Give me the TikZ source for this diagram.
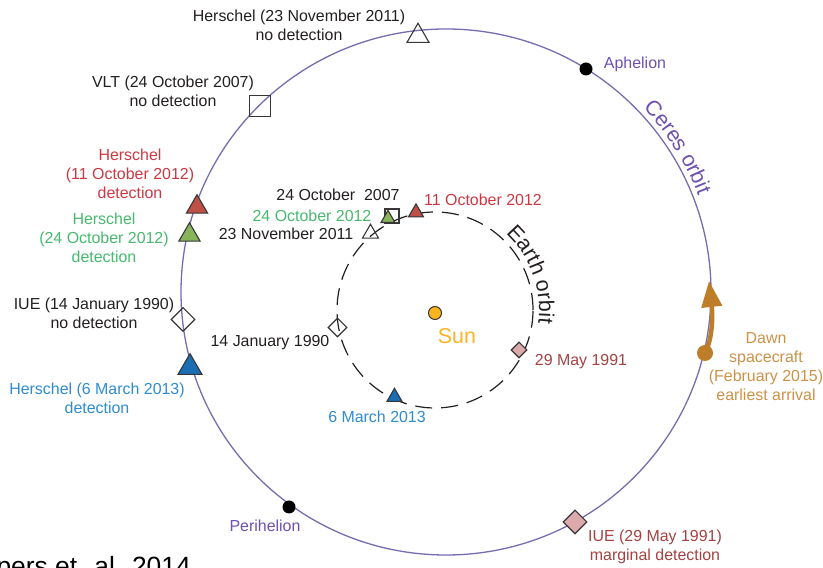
\documentclass[tikz,border=0pt]{standalone}
\usepackage{fontspec}
\setmainfont{Liberation Sans}
\usetikzlibrary{shapes.geometric,arrows.meta,decorations.text}
\definecolor{txt}{RGB}{35,31,32}
\definecolor{orbitc}{RGB}{120,108,175}
\definecolor{purp}{RGB}{110,80,175}
\definecolor{redt}{RGB}{205,55,65}
\definecolor{redf}{RGB}{190,80,70}
\definecolor{greent}{RGB}{70,185,110}
\definecolor{greenf}{RGB}{135,180,90}
\definecolor{bluet}{RGB}{45,140,210}
\definecolor{bluef}{RGB}{25,110,180}
\definecolor{pinkt}{RGB}{165,65,65}
\definecolor{pinkf}{RGB}{220,170,170}
\definecolor{dawnt}{RGB}{205,145,70}
\definecolor{dawnf}{RGB}{190,125,40}
\definecolor{sunt}{RGB}{250,180,40}
\definecolor{sunf}{RGB}{250,180,30}
\definecolor{mk}{RGB}{55,55,55}
\tikzset{
  lbl/.style={font=\fontsize{16}{19}\selectfont, align=center, inner sep=0, text=txt},
  tri/.style={regular polygon, regular polygon sides=3, draw=mk, line width=1.1bp, inner sep=0},
  sq/.style={rectangle, draw=mk, line width=1.1bp, inner sep=0},
  dia/.style={diamond, draw=mk, line width=1.1bp, inner sep=0},
  dotn/.style={circle, fill=black, inner sep=0, minimum size=13bp},
}
\begin{document}
\begin{tikzpicture}[x=1bp,y=1bp]
\useasboundingbox (0,0) rectangle (823,568);
\coordinate (ceres) at (446,276);
\coordinate (earth) at (435,258);
% orbits
\draw[orbitc, line width=1.3bp] (ceres) ellipse [x radius=265, y radius=263];
\draw[txt, line width=1.2bp, dash pattern=on 17bp off 9bp] (earth) circle [radius=98];
% curved labels
\path[decorate, decoration={text along path, text align=center,
  text={|\color{purp}\fontsize{21.5}{25}\selectfont|Ceres orbit}}]
  (ceres) ++(48:270) arc[start angle=48, end angle=16, radius=270];
\path[decorate, decoration={text along path, text align=center,
  text={|\color{txt}\fontsize{21.5}{25}\selectfont|Earth orbit}}]
  (earth) ++(60:104) arc[start angle=60, end angle=-20, radius=104];
% Sun
\node[circle, fill=sunf, draw=mk, line width=1bp, minimum size=13bp, inner sep=0] (sun) at (435,255) {};
\node[font=\fontsize{21.5}{25}\selectfont, text=sunt, inner sep=0] (sunlbl) at (457,232) {Sun};
% markers on Ceres orbit
\node[tri, minimum size=25.4bp] (otop) at (418,532) {};
\node[sq, minimum size=21.5bp] (vlt) at (260,462) {};
\node[tri, fill=redf, minimum size=24.5bp] (hred) at (197,361) {};
\node[tri, fill=greenf, minimum size=24.5bp] (hgreen) at (189.5,333) {};
\node[dia, minimum width=24bp, minimum height=24bp] (iue14) at (183,248.5) {};
\node[tri, fill=bluef, minimum size=27.7bp] (hblue) at (190,200.5) {};
\node[dotn] (peri) at (289,61) {};
\node[dotn] (aph) at (586,499) {};
\node[dia, fill=pinkf, minimum width=24bp, minimum height=24bp] (iue29) at (575,46) {};
% inner markers
\node[sq, minimum size=14bp] (isq) at (392,352) {};
\node[tri, fill=greenf, minimum size=16.2bp] (igtri) at (388,349.5) {};
\node[tri, minimum size=18.5bp] (iotri) at (370.5,334.5) {};
\node[tri, fill=redf, minimum size=17.3bp] (irtri) at (416,355.5) {};
\node[dia, minimum width=19bp, minimum height=19bp] (idia14) at (337.5,240.5) {};
\node[tri, fill=bluef, minimum size=17.3bp] (ibtri) at (394.5,171) {};
\node[dia, fill=pinkf, minimum width=16bp, minimum height=16bp] (idia29) at (519,218) {};
% Dawn
\node[circle, fill=dawnf, minimum size=16bp, inner sep=0] (dawn) at (705,215) {};
\coordinate (dawntip) at (709,287);
\draw[dawnf, line width=4.5bp, -{Triangle[length=26bp,width=20bp]}] (dawn.center) .. controls (712,228) and (713,250) .. (dawntip);
% labels
\node[lbl] (l1) at (299,542.5) {Herschel (23 November 2011)\\no detection};
\node[lbl] (l2) at (173,477) {VLT (24 October 2007)\\no detection};
\node[lbl, text=redt] (l3) at (130,394) {Herschel\\(11 October 2012)\\detection};
\node[lbl, text=greent] (l4) at (104,330) {Herschel\\(24 October 2012)\\detection};
\node[lbl] (l5) at (94,255) {IUE (14 January 1990)\\no detection};
\node[lbl, text=bluet] (l6) at (97,170) {Herschel (6 March 2013)\\detection};
\node[lbl, text=purp] (l7) at (265,42) {Perihelion};
\node[lbl, text=purp] (l8) at (635,504) {Aphelion};
\node[lbl, text=pinkt] (l9) at (655,21) {IUE (29 May 1991)\\marginal detection};
\node[lbl, text=dawnt] (l10) at (766,201.5) {Dawn\\spacecraft\\(February 2015)\\earliest arrival};
\node[lbl] (l11) at (338,373) {24 October~ 2007};
\node[lbl, text=greent] (l12) at (312,352) {24 October 2012};
\node[lbl] (l13) at (286,334) {23 November 2011};
\node[lbl, text=redt] (l14) at (483,368) {11 October 2012};
\node[lbl] (l15) at (270,225) {14 January 1990};
\node[lbl, text=bluet] (l16) at (377,151) {6 March 2013};
\node[lbl, text=pinkt] (l17) at (581,206) {29 May 1991};
\node[font=\fontsize{26.5}{30}\selectfont, text=black, inner sep=0, anchor=base east] (cite) at (191,-7.7) {Küppers et. al. 2014};
\end{tikzpicture}
\end{document}
